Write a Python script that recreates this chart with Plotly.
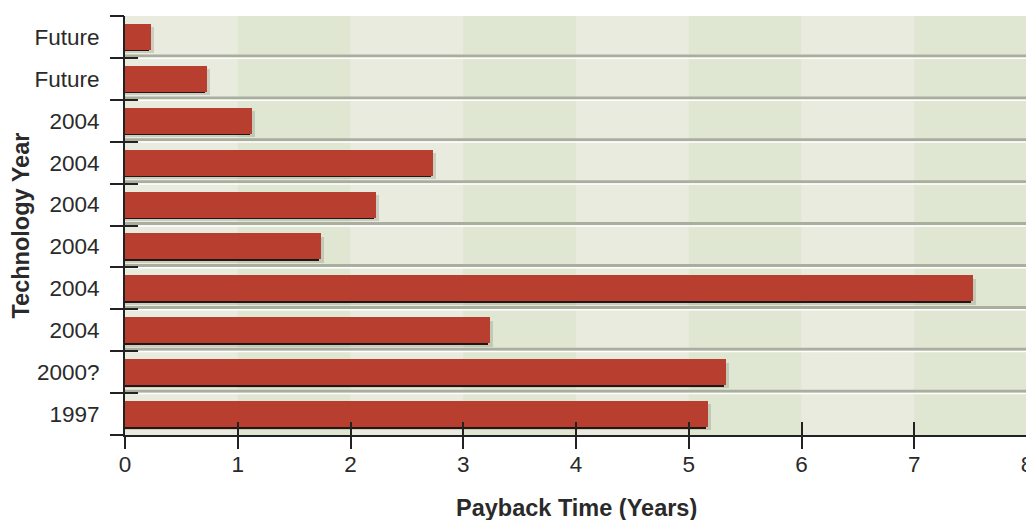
import plotly.graph_objects as go

# Data (top to bottom as shown in the chart)
tech_years = ["Future", "Future", "2004", "2004", "2004", "2004", "2004", "2004", "2000?", "1997"]
payback_years = [0.23, 0.73, 1.13, 2.73, 2.23, 1.74, 7.52, 3.24, 5.33, 5.17]
x_ticks = [0, 1, 2, 3, 4, 5, 6, 7, 8]

positions = list(range(len(tech_years)))
n = len(tech_years)

BAR_W = 0.62
FONT = "Liberation Sans, Arial, sans-serif"
TXT = "#2a2a2a"
FS = 22.5
FS_TITLE = 23.5

fig = go.Figure()

# soft shadow
fig.add_trace(go.Bar(
    x=[v + 0.025 for v in payback_years], y=positions, orientation="h",
    width=BAR_W, offset=-BAR_W / 2 + 0.08,
    marker=dict(color="rgba(90,100,80,0.22)", line=dict(width=0)),
    hoverinfo="skip", showlegend=False,
))
# dark bottom edge
fig.add_trace(go.Bar(
    x=[v - 0.02 for v in payback_years], y=positions, orientation="h",
    width=BAR_W, offset=-BAR_W / 2 + 0.035,
    marker=dict(color="#231614", line=dict(width=0)),
    hoverinfo="skip", showlegend=False,
))
# main bars
fig.add_trace(go.Bar(
    x=payback_years, y=positions, orientation="h",
    width=BAR_W, offset=-BAR_W / 2,
    marker=dict(color="#b83f30", line=dict(width=0)),
    showlegend=False,
    customdata=tech_years,
    hovertemplate="%{customdata}: %{x} years<extra></extra>",
))

shapes = []
for i in range(len(x_ticks) - 1):
    shapes.append(dict(
        type="rect", xref="x", yref="paper", x0=x_ticks[i], x1=x_ticks[i + 1], y0=0, y1=1,
        fillcolor="#e9ebde" if i % 2 == 0 else "#dfe6d2", line=dict(width=0), layer="below",
    ))
for k in range(n - 1):
    b = k + 0.5
    shapes.append(dict(
        type="line", xref="paper", yref="y", x0=0, x1=1, y0=b - 0.045, y1=b - 0.045,
        line=dict(color="#a9ae9f", width=3), layer="below",
    ))
    shapes.append(dict(
        type="line", xref="paper", yref="y", x0=0, x1=1, y0=b + 0.01, y1=b + 0.01,
        line=dict(color="#ffffff", width=1.5), layer="below",
    ))

boundaries = [p - 0.5 for p in positions] + [positions[-1] + 0.5]
yrange = [n - 0.5, -0.5]
xrange = [x_ticks[0], x_ticks[-1]]

hidden_tick_axis = dict(showticklabels=False, showgrid=False, zeroline=False, showline=False,
                        automargin=False, tickwidth=2, tickcolor="#222")

# page body has an 8px default margin, so the figure is sized to fit the 1034x520 window
fig.update_layout(
    width=1026, height=512,
    margin=dict(l=117, r=7, t=8, b=85, autoexpand=False),
    paper_bgcolor="white", plot_bgcolor="#e9ebde",
    barmode="overlay", bargap=0,
    shapes=shapes,
    font=dict(family=FONT, color=TXT, size=FS),
    xaxis=dict(
        range=xrange, tickvals=x_ticks,
        ticks="outside", ticklen=8, tickcolor="rgba(0,0,0,0)",
        showline=True, linecolor="#222", linewidth=2,
        showgrid=False, zeroline=False, automargin=False,
        tickfont=dict(size=FS, color=TXT, family=FONT),
    ),
    xaxis2=dict(overlaying="x", range=xrange, tickvals=x_ticks, ticks="outside", ticklen=13,
                anchor="y", **hidden_tick_axis),
    xaxis3=dict(overlaying="x", range=xrange, tickvals=x_ticks[1:], ticks="inside", ticklen=13,
                anchor="y", **hidden_tick_axis),
    yaxis=dict(
        range=yrange, tickvals=positions, ticktext=tech_years,
        ticks="outside", ticklen=19, tickcolor="rgba(0,0,0,0)",
        showline=True, linecolor="#222", linewidth=2,
        showgrid=False, zeroline=False, automargin=False,
        tickfont=dict(size=FS, color=TXT, family=FONT),
    ),
    yaxis2=dict(overlaying="y", range=yrange, tickvals=boundaries, ticks="outside", ticklen=14,
                anchor="x", **hidden_tick_axis),
    yaxis3=dict(overlaying="y", range=yrange, tickvals=boundaries[:-1], ticks="inside", ticklen=13,
                anchor="x", **hidden_tick_axis),
    annotations=[
        dict(text="<b>Payback Time (Years)</b>", xref="paper", yref="paper", x=0.5, y=0,
             yshift=-73, xanchor="center", yanchor="middle", showarrow=False,
             font=dict(size=FS_TITLE, color=TXT, family=FONT)),
        dict(text="<b>Technology Year</b>", xref="paper", yref="paper", x=0, y=0.5,
             xshift=-105, xanchor="center", yanchor="middle", textangle=-90, showarrow=False,
             font=dict(size=FS_TITLE, color=TXT, family=FONT)),
    ],
)

fig.add_trace(go.Scatter(x=[None], y=[None], xaxis="x2", yaxis="y", showlegend=False, hoverinfo="skip"))
fig.add_trace(go.Scatter(x=[None], y=[None], xaxis="x3", yaxis="y", showlegend=False, hoverinfo="skip"))
fig.add_trace(go.Scatter(x=[None], y=[None], xaxis="x", yaxis="y2", showlegend=False, hoverinfo="skip"))
fig.add_trace(go.Scatter(x=[None], y=[None], xaxis="x", yaxis="y3", showlegend=False, hoverinfo="skip"))

fig.write_html("out.html")
